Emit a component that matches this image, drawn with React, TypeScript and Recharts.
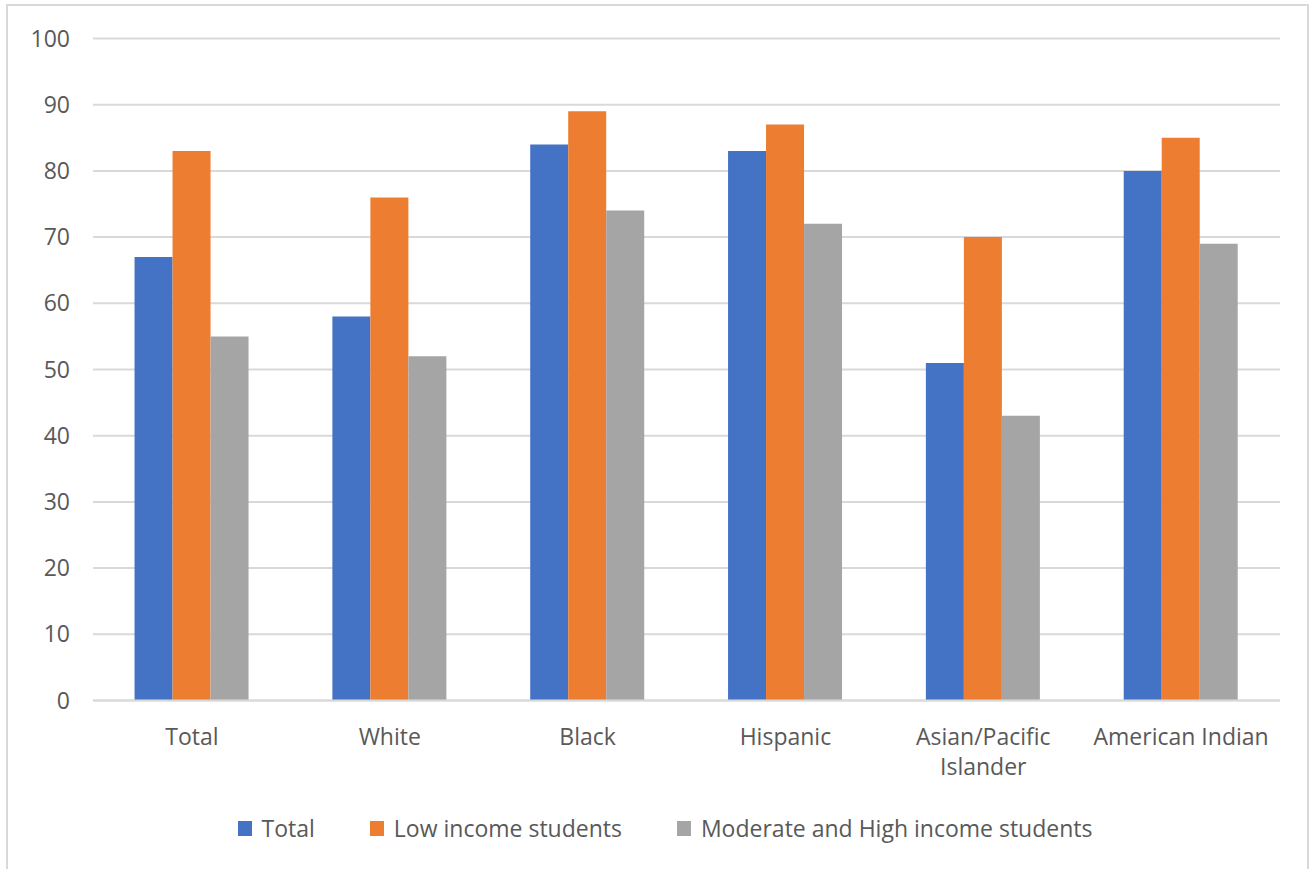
import React from "react";
import { BarChart, Bar, XAxis, YAxis, CartesianGrid, Legend } from "recharts";

// Share of students by group and family income
const categories = ["Total", "White", "Black", "Hispanic", "Asian/Pacific Islander", "American Indian"];
const totalValues = [67, 58, 84, 83, 51, 80];
const lowIncomeValues = [83, 76, 89, 87, 70, 85];
const moderateHighValues = [55, 52, 74, 72, 43, 69];
const yTicks = [0, 10, 20, 30, 40, 50, 60, 70, 80, 90, 100];

const seriesNames = ["Total", "Low income students", "Moderate and High income students"];
const seriesColors = ["#4472C4", "#ED7D31", "#A5A5A5"];

const data = categories.map((c, i) => ({
  category: c,
  total: totalValues[i],
  low: lowIncomeValues[i],
  modHigh: moderateHighValues[i],
}));

const FONT = "'Open Sans', 'Noto Sans', sans-serif";
const TEXT = "#595959";
const GRID = "#D9D9D9";
const FONT_SIZE = 23;

// Category labels, wrapped onto two lines where they are long
const XTick = (props: any) => {
  const { x, y, payload } = props;
  const label: string = payload.value;
  const lines = label === "Asian/Pacific Islander" ? ["Asian/Pacific", "Islander"] : [label];
  return (
    <g transform={`translate(${x},${y})`}>
      {lines.map((l, i) => (
        <text
          key={i}
          x={0}
          y={27 + i * 30}
          textAnchor="middle"
          dominantBaseline="central"
          fill={TEXT}
          fontSize={FONT_SIZE}
          fontFamily={FONT}
        >
          {l}
        </text>
      ))}
    </g>
  );
};

const LegendContent = () => (
  <div
    style={{
      display: "flex",
      justifyContent: "center",
      alignItems: "center",
      gap: 55,
      paddingLeft: 14,
      fontFamily: FONT,
      fontSize: FONT_SIZE,
      color: TEXT,
    }}
  >
    {seriesNames.map((n, i) => (
      <div key={n} style={{ display: "flex", alignItems: "center" }}>
        <span
          style={{
            display: "inline-block",
            width: 14,
            height: 15,
            background: seriesColors[i],
            marginRight: 10,
          }}
        />
        <span>{n}</span>
      </div>
    ))}
  </div>
);

export default function App() {
  return (
    <div
      style={{
        position: "absolute",
        left: 0,
        top: 0,
        width: 1316,
        height: 869,
        overflow: "hidden",
        background: "#fff",
      }}
    >
      <div
        style={{
          position: "absolute",
          left: 6,
          top: 4,
          width: 1303,
          height: 900,
          border: `2px solid ${GRID}`,
          boxSizing: "border-box",
        }}
      />
      <BarChart
        width={1316}
        height={869}
        data={data}
        margin={{ top: 38.5, right: 36, bottom: 108.5, left: 0 }}
        barCategoryGap="21%"
        barGap={0}
        style={{ position: "absolute", left: 0, top: 0 }}
      >
        <CartesianGrid vertical={false} stroke={GRID} strokeWidth={2} />
        <XAxis
          dataKey="category"
          height={60}
          tick={<XTick />}
          tickLine={false}
          axisLine={{ stroke: GRID, strokeWidth: 2 }}
          interval={0}
        />
        <YAxis
          width={93}
          domain={[0, 100]}
          ticks={yTicks}
          tickLine={false}
          axisLine={false}
          tickMargin={17}
          tick={{ fill: TEXT, fontSize: FONT_SIZE, fontFamily: FONT }}
        />
        <Legend
          layout="horizontal"
          verticalAlign="middle"
          align="center"
          content={<LegendContent />}
          wrapperStyle={{ top: 812, left: 0, width: 1316 }}
        />
        <Bar dataKey="total" name={seriesNames[0]} fill={seriesColors[0]} isAnimationActive={false} />
        <Bar dataKey="low" name={seriesNames[1]} fill={seriesColors[1]} isAnimationActive={false} />
        <Bar dataKey="modHigh" name={seriesNames[2]} fill={seriesColors[2]} isAnimationActive={false} />
      </BarChart>
    </div>
  );
}
